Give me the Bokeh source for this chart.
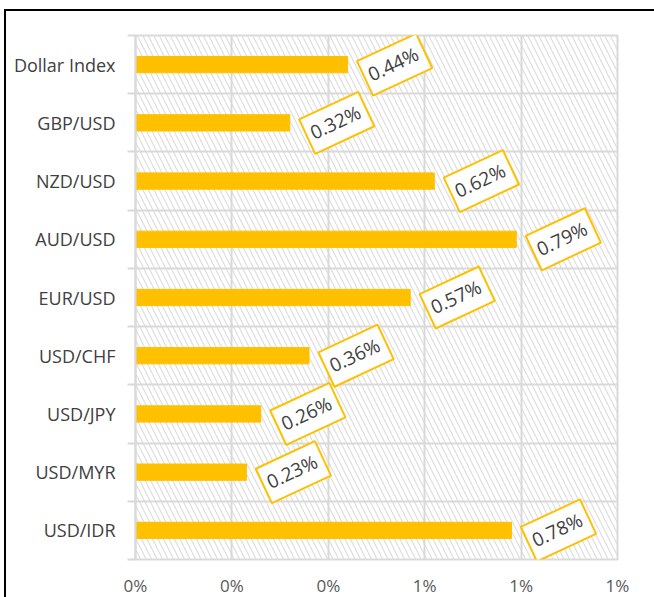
from bokeh.plotting import figure
from bokeh.models import Range1d, FixedTicker, BoxAnnotation, ColumnDataSource
from bokeh.core.properties import value
from bokeh.embed import file_html
from bokeh.resources import INLINE

categories = ["Dollar Index", "GBP/USD", "NZD/USD", "AUD/USD", "EUR/USD",
              "USD/CHF", "USD/JPY", "USD/MYR", "USD/IDR"]
values = [0.44, 0.32, 0.62, 0.79, 0.57, 0.36, 0.26, 0.23, 0.78]
x_ticks = [0.0, 0.2, 0.4, 0.6, 0.8, 1.0]
x_tick_labels = ["0%", "0%", "0%", "1%", "1%", "1%"]

n = len(categories)
ys = [n - 0.5 - i for i in range(n)]
src = ColumnDataSource(dict(y=ys, v=values, lbl=[f"{v:.2f}%" for v in values]))

FONT = "Open Sans"
p = figure(width=650, height=588, x_range=Range1d(0, 1.0), y_range=Range1d(0, n),
           output_backend="svg", toolbar_location=None,
           min_border_left=129, min_border_top=24, min_border_right=39, min_border_bottom=30)
p.margin = (9, 0, 0, 4)
p.styles = {"border-left": "2px solid black", "border-top": "2px solid black"}

p.outline_line_color = "#d9d9d9"
p.outline_line_width = 2

hatch = BoxAnnotation(fill_alpha=0, line_alpha=0, hatch_pattern="\\", hatch_color="#dedede",
                      hatch_scale=11, hatch_weight=1.2, level="image")
p.add_layout(hatch)

p.hbar(y="y", left=0, right="v", height=0.28, color="#FFC000", source=src)

p.text(x="v", y="y", text="lbl", source=src, x_offset=47, angle=25, angle_units="deg",
       text_align="center", text_baseline="middle", text_font=value(FONT),
       text_font_size="19px", text_color="#404040",
       background_fill_color="white", border_line_color="#FFC000", border_line_width=2,
       padding=[5, 7, 5, 7])

p.xaxis.ticker = FixedTicker(ticks=x_ticks)
p.xaxis.major_label_overrides = {t: l for t, l in zip(x_ticks, x_tick_labels)}
p.xaxis.axis_line_color = None
p.xaxis.major_tick_line_color = None
p.xaxis.minor_tick_line_color = None
p.xaxis.major_label_standoff = 8
p.xaxis.major_label_text_font = FONT
p.xaxis.major_label_text_font_size = "17px"
p.xaxis.major_label_text_color = "#595959"

p.yaxis.ticker = FixedTicker(ticks=ys, minor_ticks=list(range(n + 1)))
p.yaxis.major_label_overrides = {y: c for y, c in zip(ys, categories)}
p.yaxis.axis_line_color = "#d9d9d9"
p.yaxis.axis_line_width = 2
p.yaxis.major_tick_line_color = None
p.yaxis.minor_tick_line_color = "#d9d9d9"
p.yaxis.minor_tick_line_width = 2
p.yaxis.minor_tick_out = 8
p.yaxis.minor_tick_in = 0
p.yaxis.major_label_standoff = 12
p.yaxis.major_label_text_font = FONT
p.yaxis.major_label_text_font_size = "18px"
p.yaxis.major_label_text_color = "#404040"

p.xgrid.ticker = FixedTicker(ticks=x_ticks)
p.xgrid.grid_line_color = "#d9d9d9"
p.xgrid.grid_line_width = 2
p.ygrid.ticker = FixedTicker(ticks=list(range(n + 1)))
p.ygrid.grid_line_color = "#d9d9d9"
p.ygrid.grid_line_width = 2

open("out.html", "w").write(file_html(p, INLINE))
